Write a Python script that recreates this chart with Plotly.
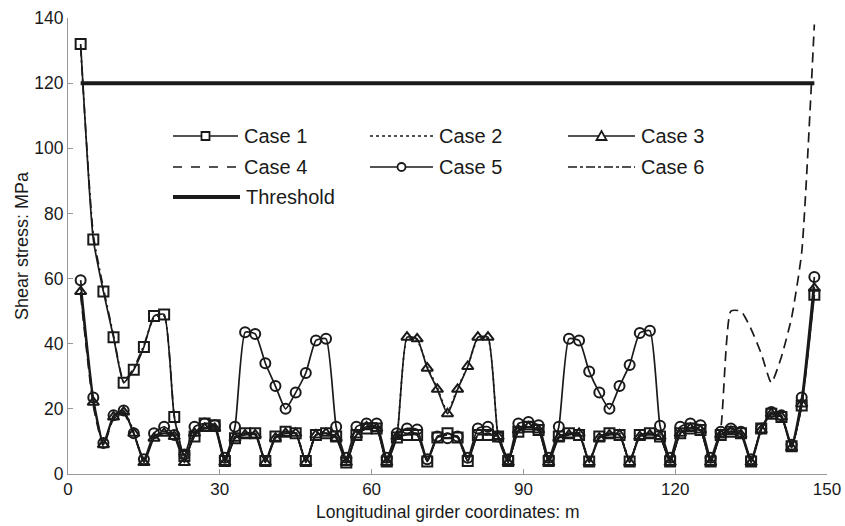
import plotly.graph_objects as go

# ---------------- data ----------------
x_m = [2.5, 5, 7, 9, 11, 13, 15, 17, 19, 21,
       23, 25, 27, 29, 31,
       33, 35, 37, 39, 41, 43, 45, 47, 49, 51, 53, 55, 57, 59, 61, 63,
       65, 67, 69, 71, 73, 75, 77, 79, 81, 83, 85, 87, 89, 91, 93, 95,
       97, 99, 101, 103, 105, 107, 109, 111, 113, 115, 117, 119, 121, 123, 125, 127,
       129, 131, 133, 135, 137, 139, 141, 143,
       145, 147.5]

case1 = [132, 72, 56, 42, 28, 32, 39, 48.5, 49, 17.5,
         5.5, 11.5, 15.5, 15, 4,
         11, 12.5, 12.5, 4, 11.5, 13, 12.5, 4, 12, 12.5, 11.5, 3.5, 12, 14, 14, 3.8,
         11.2, 12, 12, 3.8, 11.2, 12.5, 11.2, 4, 12, 12, 11.5, 4, 13, 14.5, 13.5, 4,
         11.5, 12.5, 12, 3.8, 11.5, 12.5, 12, 3.8, 12, 12.5, 11.5, 3.8, 12.5, 14, 13.5, 3.8,
         12, 13, 12.5, 3.8, 14, 18.5, 17.5, 8.5,
         21, 55]

case2 = [57, 22.5, 9, 17.5, 19.5, 13, 4, 11.5, 13, 12,
         4, 13, 14.5, 14.5, 4,
         11.5, 12.5, 12.5, 4, 11.5, 13, 13, 4, 12.5, 13, 11.5, 4, 12.5, 15, 14.5, 4,
         12, 41.5, 41, 33, 26.5, 19, 26.5, 33, 41.5, 41.5, 12, 4, 14, 15, 14, 4,
         11.5, 12.5, 13, 4, 11.5, 12.5, 12.5, 4, 12, 12.5, 12, 4, 13, 14.5, 14, 4,
         12.5, 13.5, 12.5, 4, 14, 18.5, 17.5, 8.5,
         22, 58]

case3 = [56, 22, 9, 17.5, 19, 12.5, 3.5, 11, 12.5, 11.5,
         3.5, 12.5, 14, 14, 3.5,
         11, 12, 12, 3.5, 11, 12.5, 12.5, 3.5, 12, 12.5, 11, 3.5, 12, 14.5, 14, 3.5,
         11.5, 42, 41.5, 32.5, 26, 18.5, 26, 33, 42, 42, 11.5, 3.5, 13.5, 14.5, 13.5, 3.5,
         11, 12, 12.5, 3.5, 11, 12, 12, 3.5, 11.5, 12, 11.5, 3.5, 12.5, 14, 13.5, 3.5,
         12, 13, 12, 3.5, 13.5, 18.5, 17.5, 8,
         21.5, 57]

case4 = [55, 21, 8.5, 17, 18.5, 12.5, 3.8, 11.5, 13, 12,
         4, 12.5, 14.5, 14.5, 4,
         11.5, 12.5, 12.5, 4, 11.5, 12.5, 12.5, 4, 12, 12.5, 11.5, 4, 12.5, 14.5, 14.5, 4,
         11.5, 12.5, 12.5, 4, 11.5, 12, 11.5, 4, 12, 12.5, 11.5, 4, 13.5, 14.5, 14, 4,
         11.5, 12.5, 12.5, 4, 11.5, 12.5, 12, 4, 11.5, 12.5, 11.5, 4, 12.5, 14, 13.5, 4,
         14, 50, 50, 44.5, 37, 28, 36, 48,
         68, 138]

case5 = [59.5, 23.5, 9.5, 18, 19.5, 12.5, 4.5, 12.5, 14.5, 12,
         6, 14.5, 15.5, 15, 5,
         14.5, 43.5, 43, 34, 27, 20, 25, 31, 41, 41.5, 14.5, 5, 14.5, 15.5, 15.5, 5,
         12.5, 14, 13.7, 4.5, 11.5, 11, 11.5, 5, 14, 14.5, 11.5, 4.5, 15.5, 16, 15, 5,
         14.5, 41.5, 41, 31.5, 25, 20, 27, 33.5, 43.3, 44, 14.8, 5, 14.5, 15.5, 15, 5,
         13, 14, 13, 4.5, 14, 19, 18, 9,
         23.5, 60.5]

case6 = [131, 73.5, 57, 42.5, 28.5, 32.5, 39.5, 48, 48.5, 18,
         5, 12, 15, 14.5, 4,
         11, 12.5, 12.5, 4, 11.5, 12.5, 12.5, 4, 12, 12.5, 11.5, 4, 12, 14, 14, 4,
         11.5, 12, 12, 4, 11.5, 12, 11.5, 4, 12, 12, 11.5, 4, 13, 14.5, 13.5, 4,
         11.5, 12.5, 12.5, 4, 11.5, 12.5, 12, 4, 12, 12.5, 11.5, 4, 12.5, 14, 13.5, 4,
         12.5, 13, 12.5, 4, 14, 18.5, 17.5, 8.5,
         21, 56]

threshold_x = [2.5, 147.5]
threshold_y = [120, 120]

x_ticks = [0, 30, 60, 90, 120, 150]
y_ticks = [0, 20, 40, 60, 80, 100, 120, 140]

x_title = "Longitudinal girder coordinates: m"
y_title = "Shear stress: MPa"

# ---------------- figure ----------------
W, H = 845, 526
ML, MR, MT, MB = 68, 18, 18, 52
PW, PH = W - ML - MR, H - MT - MB
INK = "#1a1a1a"
FONT = "Liberation Sans, Arial, sans-serif"

fig = go.Figure()

series = [
    ("Case 6", case6, "9px,4px,2px,4px", None),
    ("Case 4", case4, "10px,6px", None),
    ("Case 2", case2, "2px,4px", None),
    ("Case 3", case3, "solid", "triangle-up-open"),
    ("Case 5", case5, "solid", "circle-open"),
    ("Case 1", case1, "solid", "square-open"),
]
for name, ys, dash, sym in series:
    fig.add_trace(go.Scatter(
        x=x_m, y=ys, name=name, showlegend=False,
        mode="lines+markers" if sym else "lines",
        line=dict(color=INK, width=1.7, dash=dash, shape="spline", smoothing=0.5),
        marker=dict(symbol=sym or "circle", size=10, color=INK, line=dict(color=INK, width=2)),
    ))

fig.add_trace(go.Scatter(x=threshold_x, y=threshold_y, mode="lines", name="Threshold",
                         showlegend=False, line=dict(color=INK, width=4)))

# ---------------- custom legend ----------------
def px2paper_x(px):
    return (px - ML) / PW

def px2paper_y(py):
    return (H - MB - py) / PH

shapes = []
annotations = []

legend_items = [
    ("Case 1", 173, 238, 136, "solid", 1.5, "square"),
    ("Case 2", 370, 433, 136, "dot", 1.5, None),
    ("Case 3", 568, 635, 136, "solid", 1.5, "triangle"),
    ("Case 4", 173, 238, 167, "dash", 1.5, None),
    ("Case 5", 370, 433, 167, "solid", 1.5, "circle"),
    ("Case 6", 568, 635, 167, "dashdot", 1.5, None),
    ("Threshold", 173, 240, 197, "solid", 4, None),
]
for label, x0, x1, yy, dash, lw, mk in legend_items:
    shapes.append(dict(type="line", xref="paper", yref="paper",
                       x0=px2paper_x(x0), x1=px2paper_x(x1),
                       y0=px2paper_y(yy), y1=px2paper_y(yy),
                       line=dict(color=INK, width=lw, dash=dash)))
    xc, yc = px2paper_x((x0 + x1) / 2), px2paper_y(yy)
    if mk == "square":
        shapes.append(dict(type="rect", xref="paper", yref="paper", xsizemode="pixel", ysizemode="pixel",
                           xanchor=xc, yanchor=yc, x0=-4, x1=4, y0=-4, y1=4,
                           line=dict(color=INK, width=1.8), fillcolor="white"))
    elif mk == "circle":
        shapes.append(dict(type="circle", xref="paper", yref="paper", xsizemode="pixel", ysizemode="pixel",
                           xanchor=xc, yanchor=yc, x0=-4, x1=4, y0=-4, y1=4,
                           line=dict(color=INK, width=1.8), fillcolor="white"))
    elif mk == "triangle":
        shapes.append(dict(type="path", xref="paper", yref="paper", xsizemode="pixel", ysizemode="pixel",
                           xanchor=xc, yanchor=yc, path="M -5,-4 L 5,-4 L 0,5 Z",
                           line=dict(color=INK, width=1.8), fillcolor="white"))
    annotations.append(dict(xref="paper", yref="paper", x=px2paper_x(x1 + 4), y=yc,
                            xanchor="left", yanchor="middle", text=label, showarrow=False,
                            font=dict(family=FONT, size=20, color=INK)))

# x-axis title placed as text annotation below the tick labels
annotations.append(dict(xref="paper", yref="paper", x=0.5, y=px2paper_y(512),
                        xanchor="center", yanchor="middle", text=x_title, showarrow=False,
                        font=dict(family=FONT, size=17.5, color=INK)))

fig.update_layout(
    width=W, height=H,
    margin=dict(l=ML, r=MR, t=MT, b=MB),
    paper_bgcolor="white", plot_bgcolor="white",
    font=dict(family=FONT, size=17, color=INK),
    shapes=shapes, annotations=annotations,
    showlegend=False,
)
fig.update_xaxes(range=[0, 150], tickvals=x_ticks, ticks="inside", ticklen=5, tickcolor="#999",
                 showline=True, linecolor="#999", linewidth=1, showgrid=False, zeroline=False,
                 ticklabelstandoff=0, automargin=False,
                 tickfont=dict(size=17))
fig.update_yaxes(range=[0, 140], tickvals=y_ticks, ticks="inside", ticklen=5, tickcolor="#999",
                 showline=True, linecolor="#999", linewidth=1, showgrid=False, zeroline=False,
                 automargin=False,
                 title=dict(text=y_title, font=dict(size=18), standoff=0),
                 tickfont=dict(size=17.5))

fig.write_html("out.html")
